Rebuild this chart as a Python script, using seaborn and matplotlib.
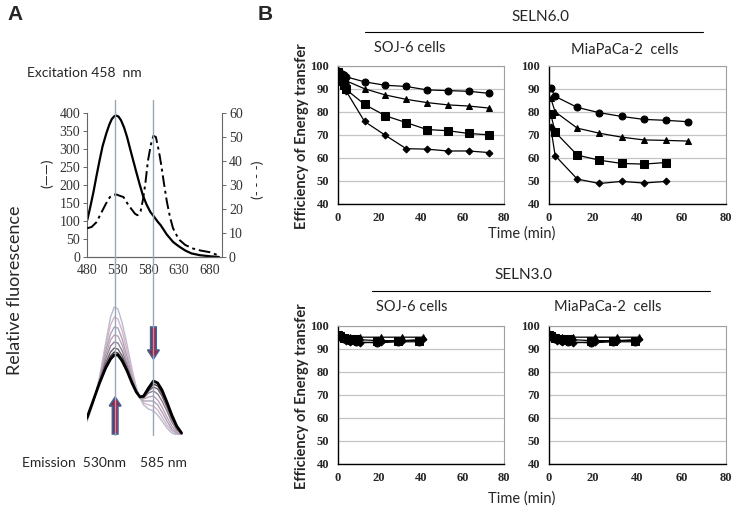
import numpy as np
import pandas as pd
import matplotlib.pyplot as plt
import seaborn as sns
from matplotlib.lines import Line2D
from matplotlib.patches import FancyArrow
from matplotlib.transforms import blended_transform_factory

# ---- Panel A data: excitation 458 nm spectra ----
wl_solid = [480, 485, 490, 495, 500, 505, 511, 516, 520, 524, 527, 531, 535, 540, 545, 550, 555,
            560, 565, 571, 577, 583, 589, 595, 600, 605, 610, 615, 620, 626, 631, 640, 650, 664, 680, 695]
fl_solid = [103, 140, 180, 225, 268, 308, 343, 368, 383, 391, 393, 390, 380, 360, 333, 300, 268,
            236, 205, 170, 145, 125, 112, 98, 88, 75, 62, 52, 42, 34, 28, 18, 10, 5, 2, 0]

wl_dash = [480, 487, 495, 502, 510, 517, 523, 528, 533, 539, 545, 552, 558, 562, 567, 571, 575,
           579, 584, 588, 592, 597, 601, 605, 610, 615, 620, 626, 631, 640, 653, 665, 680, 694]
fl_dash = [12, 12.5, 14.5, 18, 22, 25, 26, 26, 25.5, 25, 22.5, 20, 18, 17.4, 19, 24, 31,
           40, 47, 50.5, 50, 44, 38, 31, 23, 16.7, 12, 9, 7, 5, 3.5, 2.7, 2, 0.7]

# emission spectra recorded over time (light -> dark)
emis_wl = [463, 470, 480, 490, 500, 510, 518, 524, 530, 537, 545, 553, 560, 566, 572, 580, 588,
           595, 602, 610, 618, 626, 634]
emis_1 = [0, 4, 14, 32, 58, 92, 118, 128, 126, 112, 90, 66, 48, 37, 30, 26, 24, 20, 14, 7, 2, 0, 0]
emis_2 = [0, 5, 15, 33, 57, 88, 110, 118, 116, 104, 84, 62, 46, 37, 32, 30, 29, 25, 18, 10, 4, 1, 0]
emis_3 = [0, 5, 16, 34, 56, 84, 101, 108, 107, 96, 78, 58, 45, 37, 34, 34, 34, 30, 23, 14, 6, 2, 0]
emis_4 = [1, 6, 16, 34, 55, 80, 95, 100, 99, 90, 74, 56, 44, 38, 36, 38, 39, 35, 28, 18, 9, 3, 0]
emis_5 = [1, 6, 17, 34, 54, 76, 89, 93, 92, 84, 70, 55, 44, 38, 37, 42, 44, 41, 34, 24, 13, 5, 1]
emis_6 = [1, 7, 17, 35, 53, 72, 83, 87, 86, 79, 67, 54, 44, 39, 38, 44, 48, 46, 39, 28, 16, 7, 1]
emis_7 = [2, 7, 18, 35, 52, 69, 79, 83, 82, 76, 65, 53, 43, 38, 38, 45, 51, 49, 42, 31, 18, 8, 2]
emis_8 = [2, 8, 18, 35, 52, 67, 76, 80, 80, 74, 64, 52, 43, 38, 39, 47, 54, 52, 45, 33, 20, 9, 2]
emis_colors = ["#bdb9cc", "#d2b6c8", "#aba4b6", "#bfa2b7", "#8c8292", "#6c5c68", "#3a3035", "#000000"]

# ---- Panel B data: efficiency of energy transfer ----
soj6_time = [0, 1, 2, 3, 4, 13, 23, 33, 43, 53, 63, 73]
soj6_circle = [97.5, 96.8, 96.2, 95.8, 95.2, 93.0, 91.5, 91.0, 89.5, 89.2, 88.9, 88.0]
soj6_triangle = [97.0, 96.0, 95.0, 94.2, 93.5, 90.0, 87.3, 85.4, 84.0, 83.0, 82.5, 81.6]
soj6_square = [97.2, 95.5, 93.5, 91.5, 89.8, 83.2, 78.3, 75.3, 72.3, 71.8, 70.6, 70.0]
soj6_diamond = [96.8, 95.0, 93.0, 91.0, 89.2, 75.8, 69.8, 64.0, 63.8, 63.0, 63.0, 62.3]

mia_time = [1, 3, 13, 23, 33, 43, 53, 63]
mia_circle = [90.2, 86.7, 81.9, 79.6, 78.0, 76.7, 76.3, 75.7]
mia_triangle = [85.9, 80.0, 72.9, 70.7, 69.0, 67.8, 67.6, 67.3]
mia_square_time = [1, 3, 13, 23, 33, 43, 53]
mia_square = [79.1, 71.2, 61.2, 59.0, 57.6, 57.3, 58.0]
mia_diamond = [73.4, 61.0, 50.8, 48.9, 49.8, 49.1, 49.8]

seln3_time_a = [0, 1, 3, 6, 9, 19, 29, 39]
seln3_time_b = [1, 2, 4, 6, 11, 21, 31, 41]
seln3_circle = [96.0, 95.0, 94.0, 93.5, 93.0, 92.5, 93.0, 93.0]
seln3_triangle = [96.5, 95.5, 95.0, 95.0, 95.0, 95.0, 95.0, 95.0]
seln3_square = [96.0, 95.5, 94.5, 94.0, 94.0, 93.5, 93.5, 93.5]
seln3_diamond = [95.5, 94.5, 93.5, 93.0, 92.5, 93.0, 93.5, 94.0]

sns.set_style("white")
plt.rcParams["font.family"] = ["Lato", "DejaVu Sans"]

W, H = 734, 512
fig = plt.figure(figsize=(W / 100, H / 100), dpi=100)


def rect(x0, y0, x1, y1):
    return [x0 / W, 1 - y1 / H, (x1 - x0) / W, (y1 - y0) / H]


serif = "Liberation Serif"

# ---------- Panel A top ----------
axA = fig.add_axes(rect(87.3, 113, 222, 257))
sns.lineplot(x=wl_solid, y=fl_solid, color="black", lw=1.6, ax=axA)
axA.set_xlim(480, 700)
axA.set_ylim(0, 400)
axA.set_xticks([480, 530, 580, 630, 680])
axA.set_yticks(range(0, 401, 50))
axA2 = axA.twinx()
sns.lineplot(x=wl_dash, y=fl_dash, color="black", lw=1.4, ax=axA2)
axA2.lines[0].set_dashes([6, 2, 1.5, 2])
axA2.set_ylim(0, 60)
axA2.set_yticks(range(0, 61, 10))
for a in (axA, axA2):
    a.spines["top"].set_visible(False)
    for s in a.spines.values():
        s.set_color("#666666")
        s.set_linewidth(0.8)
    a.tick_params(direction="out", length=3, width=0.7, color="#666666",
                  labelsize=10, labelcolor="#333333", pad=2)
    for lab in a.get_xticklabels() + a.get_yticklabels():
        lab.set_family(serif)
axA2.spines["left"].set_visible(False)
axA.spines["right"].set_visible(False)
axA.patch.set_alpha(0)

# ---------- Panel A bottom (emission spectra) ----------
axE = fig.add_axes(rect(87.3, 300, 222, 435))
axE.set_xlim(480, 700)
axE.set_ylim(0, 135)
emis_all = [emis_1, emis_2, emis_3, emis_4, emis_5, emis_6, emis_7, emis_8]
for i, (curve, c) in enumerate(zip(emis_all, emis_colors)):
    sns.lineplot(x=emis_wl, y=curve, color=c, lw=2.0 if i == len(emis_all) - 1 else 1.0, ax=axE)
axE.axis("off")
axE.add_patch(FancyArrow(588, 108, 0, -32, width=9, head_width=19, head_length=9,
                         length_includes_head=True, fc="#8e2545", ec="#4a5f8a", lw=1.2))
axE.add_patch(FancyArrow(525.5, 1, 0, 37, width=9, head_width=19, head_length=9,
                         length_includes_head=True, fc="#8e2545", ec="#4a5f8a", lw=1.2))

# vertical marker lines across both panel A plots
tr = blended_transform_factory(axA.transData, fig.transFigure)
for xv in (525.5, 588):
    fig.add_artist(Line2D([xv, xv], [1 - 100 / H, 1 - 435 / H], transform=tr,
                          color="#8fa8c8", lw=1.0))

fig.text(15 / W, 1 - 15 / H, "A", fontsize=15, fontweight="bold", ha="center", va="center",
         family=["Liberation Sans", "DejaVu Sans"])
fig.text(27 / W, 1 - 73 / H, "Excitation 458  nm", fontsize=10, ha="left", va="center")
fig.text(15 / W, 1 - 290 / H, "Relative fluorescence", fontsize=13, rotation=90,
         ha="center", va="center")
fig.text(47 / W, 1 - 173 / H, "(\u2014\u2014)", fontsize=10, rotation=90, ha="center", va="center")
fig.text(258 / W, 1 - 180 / H, "(- - - -)", fontsize=10, rotation=90, ha="center", va="center")
fig.text(22 / W, 1 - 463 / H, "Emission  530nm    585 nm", fontsize=10, ha="left", va="center")

# ---------- Panel B ----------
markers = ["o", "^", "s", "D"]
msizes = [5, 5, 5.5, 3.5]


def eff_panel(box, series):
    ax = fig.add_axes(rect(*box))
    for (t, v), m, ms in zip(series, markers, msizes):
        sns.lineplot(x=t, y=v, color="black", lw=0.9, marker=m, markersize=ms,
                     markeredgecolor="black", ax=ax)
    ax.set_xlim(0, 80)
    ax.set_ylim(40, 100)
    ax.set_xticks(range(0, 81, 20))
    ax.set_yticks(range(40, 101, 10))
    ax.yaxis.grid(True, color="#c4c4c4", lw=0.9)
    ax.set_axisbelow(True)
    for side in ("top", "right"):
        ax.spines[side].set_color("#a0a0a0")
        ax.spines[side].set_linewidth(0.8)
    for side in ("left", "bottom"):
        ax.spines[side].set_color("black")
        ax.spines[side].set_linewidth(1.0)
    ax.tick_params(direction="out", length=3, width=0.8, labelsize=9, pad=3)
    for lab in ax.get_xticklabels() + ax.get_yticklabels():
        lab.set_family(serif)
        lab.set_fontweight("bold")
    return ax


eff_panel((337.5, 65.7, 504, 204),
          [(soj6_time, soj6_circle), (soj6_time, soj6_triangle),
           (soj6_time, soj6_square), (soj6_time, soj6_diamond)])
eff_panel((548.5, 65.7, 725.7, 204),
          [(mia_time, mia_circle), (mia_time, mia_triangle),
           (mia_square_time, mia_square), (mia_square_time, mia_diamond)])
seln3 = [(seln3_time_a, seln3_circle), (seln3_time_b, seln3_triangle),
         (seln3_time_a, seln3_square), (seln3_time_b, seln3_diamond)]
eff_panel((337.5, 325.7, 504, 463.5), seln3)
eff_panel((548.5, 325.7, 725.7, 463.5), seln3)

fig.text(265 / W, 1 - 14 / H, "B", fontsize=15, fontweight="bold", ha="center", va="center",
         family=["Liberation Sans", "DejaVu Sans"])
for yc in (136, 396):
    fig.text(302 / W, 1 - yc / H, "Efficiency of Energy transfer", fontsize=10.5,
             fontweight="bold", rotation=90, ha="center", va="center")
for yc in (234, 499):
    fig.text(522 / W, 1 - yc / H, "Time (min)", fontsize=10.5, ha="center", va="center")

fig.text(540 / W, 1 - 17 / H, "SELN6.0", fontsize=11, ha="center", va="center")
fig.add_artist(Line2D([365 / W, 703 / W], [1 - 32 / H] * 2, color="black", lw=0.8))
fig.text(410 / W, 1 - 48 / H, "SOJ-6 cells", fontsize=10.5, ha="center", va="center")
fig.text(625 / W, 1 - 50 / H, "MiaPaCa-2  cells", fontsize=10.5, ha="center", va="center")

fig.text(523 / W, 1 - 275 / H, "SELN3.0", fontsize=11, ha="center", va="center")
fig.add_artist(Line2D([372 / W, 710 / W], [1 - 291 / H] * 2, color="black", lw=0.8))
fig.text(412 / W, 1 - 307 / H, "SOJ-6 cells", fontsize=10.5, ha="center", va="center")
fig.text(608 / W, 1 - 307 / H, "MiaPaCa-2  cells", fontsize=10.5, ha="center", va="center")

fig.savefig("out.png", dpi=100)
